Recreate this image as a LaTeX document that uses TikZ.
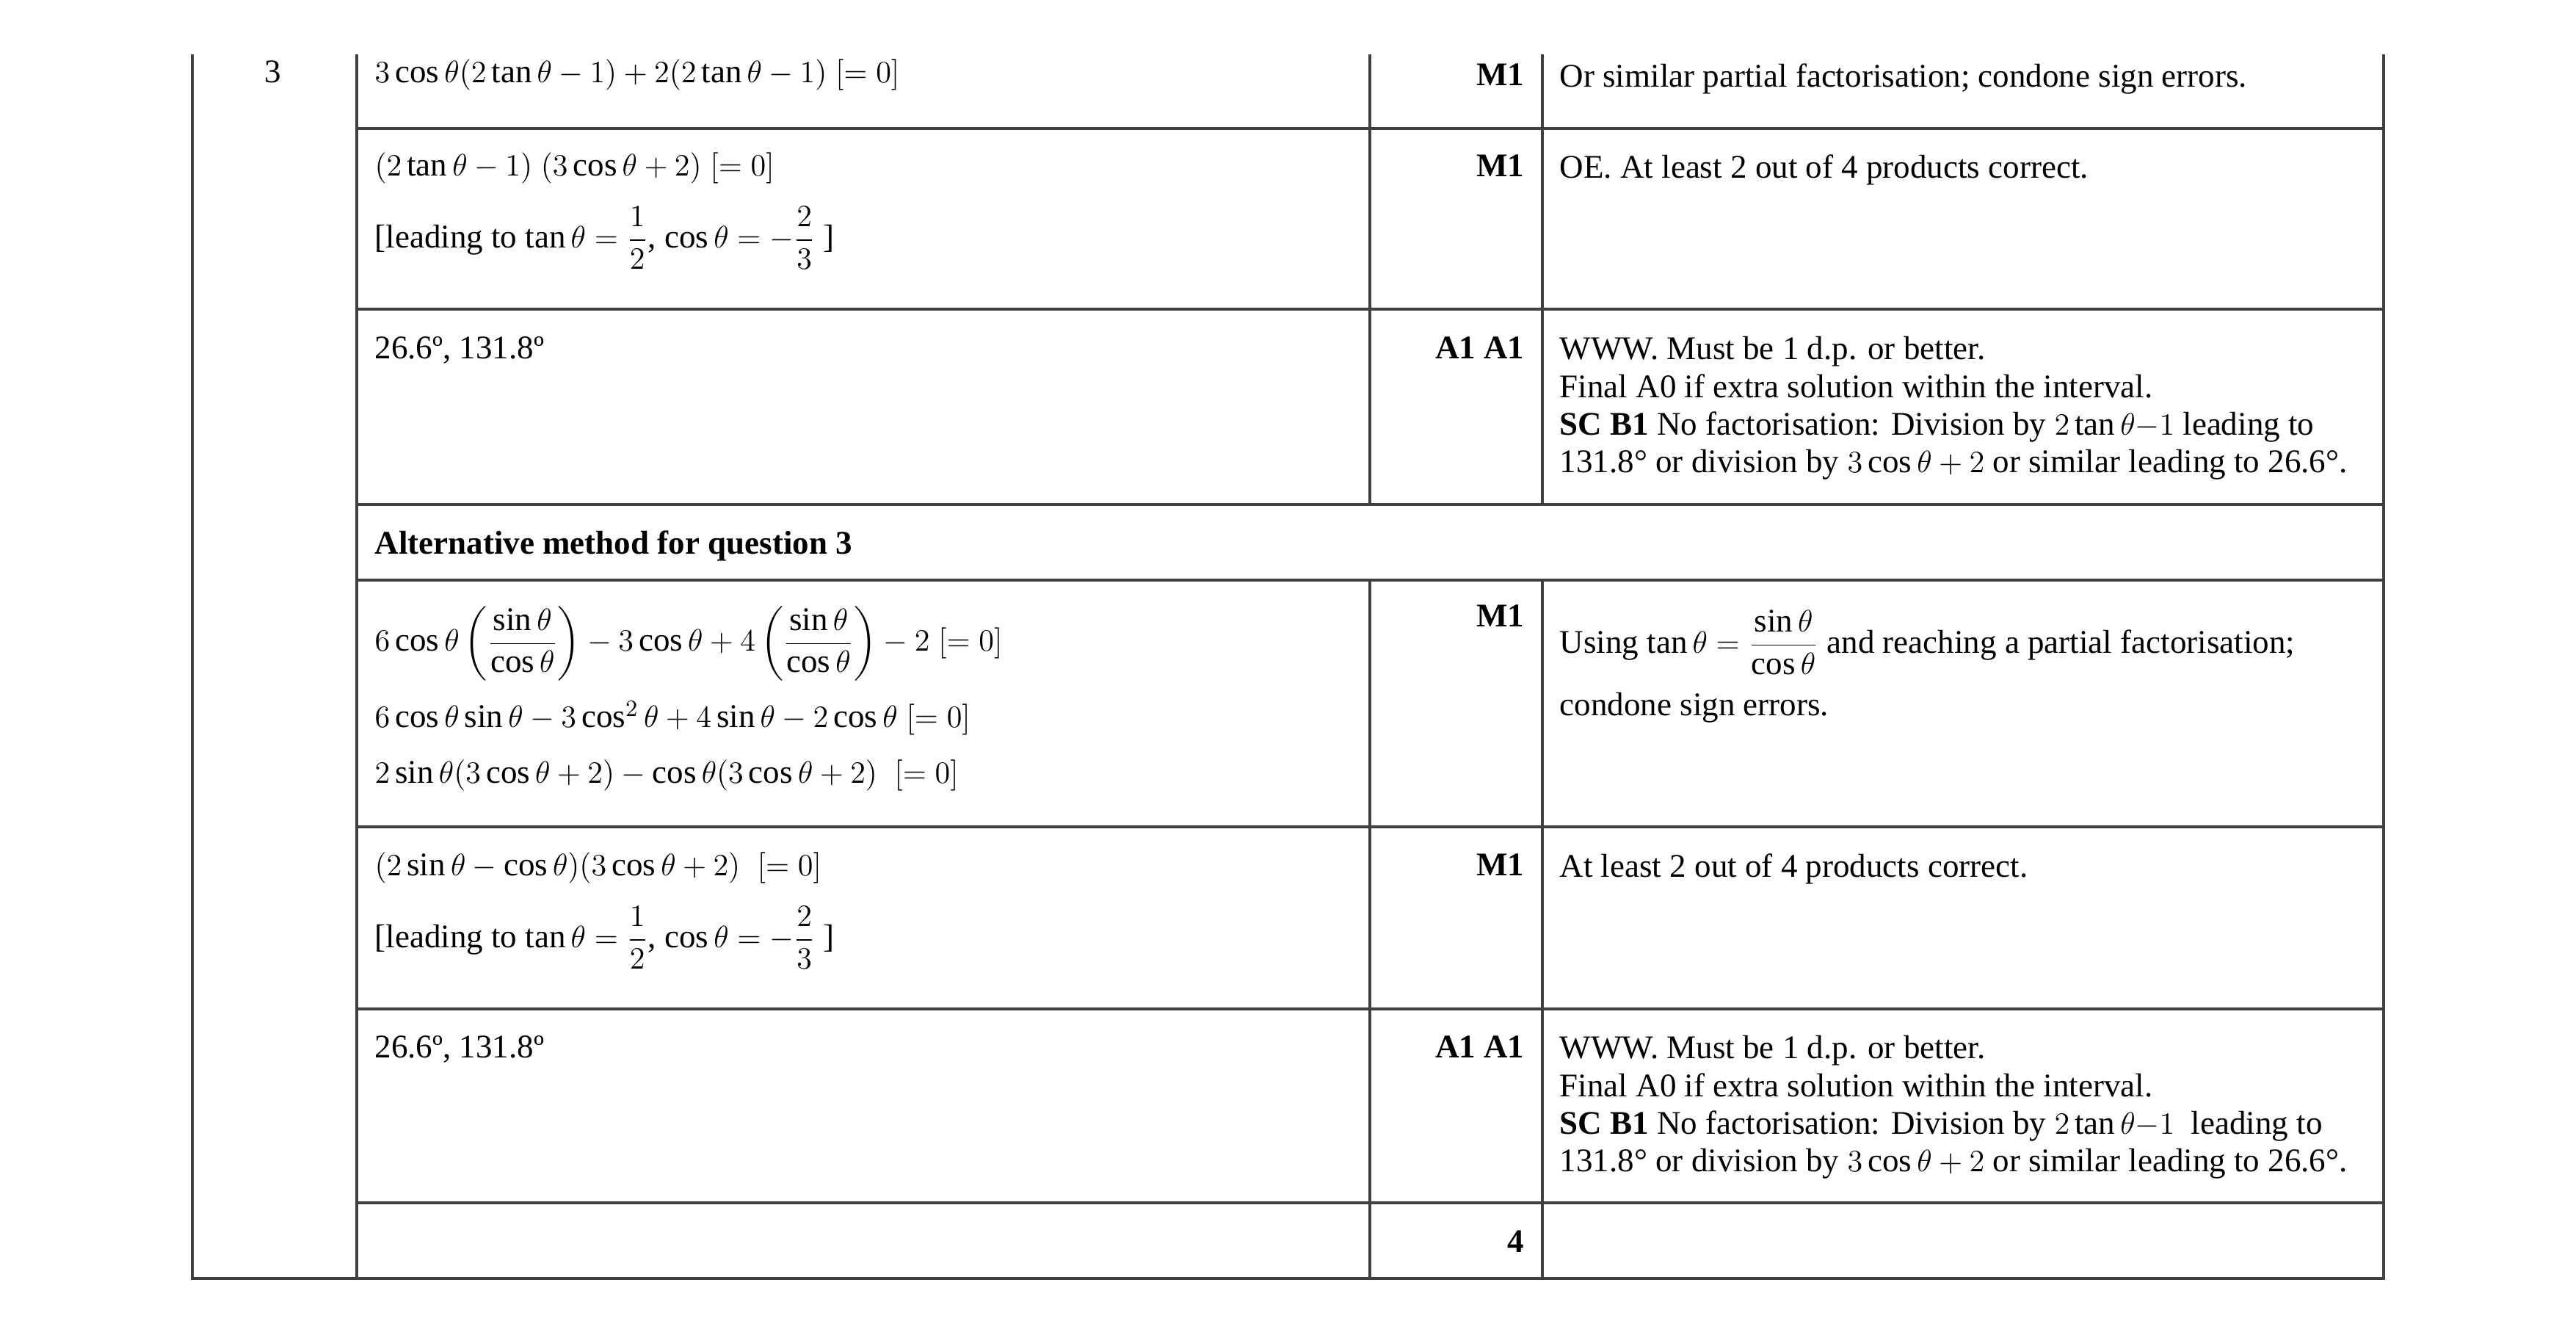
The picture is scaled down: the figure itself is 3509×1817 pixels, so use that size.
\documentclass[tikz,border=0pt]{standalone}
\usepackage{amsmath}
\usepackage{fontspec}
\setmainfont{Liberation Serif}
\begin{document}
\begin{tikzpicture}[x=0.01cm,y=-0.01cm,
  t/.style={anchor=north west,inner sep=0pt,align=left,font=\fontsize{12.8}{14.6}\selectfont},
  mk/.style={anchor=north east,inner sep=0pt,font=\fontsize{12.8}{14.6}\selectfont\bfseries},
  ln/.style={line width=0.9pt,black!75}]
\useasboundingbox (0,0) rectangle (3509,1817);
% grid
\draw[ln] (262,74) -- (262,1741) -- (3247,1741) -- (3247,74);
\draw[ln] (486,74) -- (486,1741);
\draw[ln] (1866,74) -- (1866,687) (1866,790) -- (1866,1741);
\draw[ln] (2101,74) -- (2101,687) (2101,790) -- (2101,1741);
\foreach \y in {175,421,687,790,1126,1374,1638} \draw[ln] (486,\y) -- (3247,\y);
\node[t] (q) at (360,82) {3};
% row 1
\node[t] (a1) at (510,80) {$3\cos\theta(2\tan\theta-1)+2(2\tan\theta-1)\;[=0]$};
\node[mk] (m1) at (2077,86) {M1};
\node[t] (c1) at (2124,86) {Or similar partial factorisation; condone sign errors.};
% row 2
\node[t] (a2) at (510,207) {$(2\tan\theta-1)\;(3\cos\theta+2)\;[=0]$\\[8pt]
 [leading to $\tan\theta=\dfrac12$, $\cos\theta=-\dfrac23$ ]};
\node[mk] (m2) at (2077,210) {M1};
\node[t] (c2) at (2124,210) {OE. At least 2 out of 4 products correct.};
% row 3
\node[t] (a3) at (510,458) {26.6º, 131.8º};
\node[mk] (m3) at (2077,458) {A1 A1};
\node[t] (c3) at (2124,458) {WWW. Must be 1 d.p. or better.\\Final A0 if extra solution within the interval.\\
 \textbf{SC B1} No factorisation: Division by $2\tan\theta{-}1$ leading to\\
 131.8° or division by $3\cos\theta+2$ or similar leading to 26.6°.};
% alt
\node[t] (alt) at (510,722) {\textbf{Alternative method for question 3}};
% row 4
\node[t] (a4) at (510,825) {$6\cos\theta\left(\dfrac{\sin\theta}{\cos\theta}\right)-3\cos\theta+4\left(\dfrac{\sin\theta}{\cos\theta}\right)-2\;[=0]$\\[7pt]
 $6\cos\theta\sin\theta-3\cos^2\theta+4\sin\theta-2\cos\theta\;[=0]$\\[7pt]
 $2\sin\theta(3\cos\theta+2)-\cos\theta(3\cos\theta+2)\;\;[=0]$};
\node[mk] (m4) at (2077,823) {M1};
\node[t] (c4) at (2124,830) {Using $\tan\theta=\dfrac{\sin\theta}{\cos\theta}$ and reaching a partial factorisation;\\[6pt] condone sign errors.};
% row 5
\node[t] (a5) at (510,1160) {$(2\sin\theta-\cos\theta)(3\cos\theta+2)\;\;[=0]$\\[8pt]
 [leading to $\tan\theta=\dfrac12$, $\cos\theta=-\dfrac23$ ]};
\node[mk] (m5) at (2077,1162) {M1};
\node[t] (c5) at (2124,1162) {At least 2 out of 4 products correct.};
% row 6
\node[t] (a6) at (510,1410) {26.6º, 131.8º};
\node[mk] (m6) at (2077,1410) {A1 A1};
\node[t] (c6) at (2124,1410) {WWW. Must be 1 d.p. or better.\\Final A0 if extra solution within the interval.\\
 \textbf{SC B1} No factorisation: Division by $2\tan\theta{-}1$ \ leading to\\
 131.8° or division by $3\cos\theta+2$ or similar leading to 26.6°.};
\node[mk] (tot) at (2077,1675) {4};
\end{tikzpicture}
\end{document}
